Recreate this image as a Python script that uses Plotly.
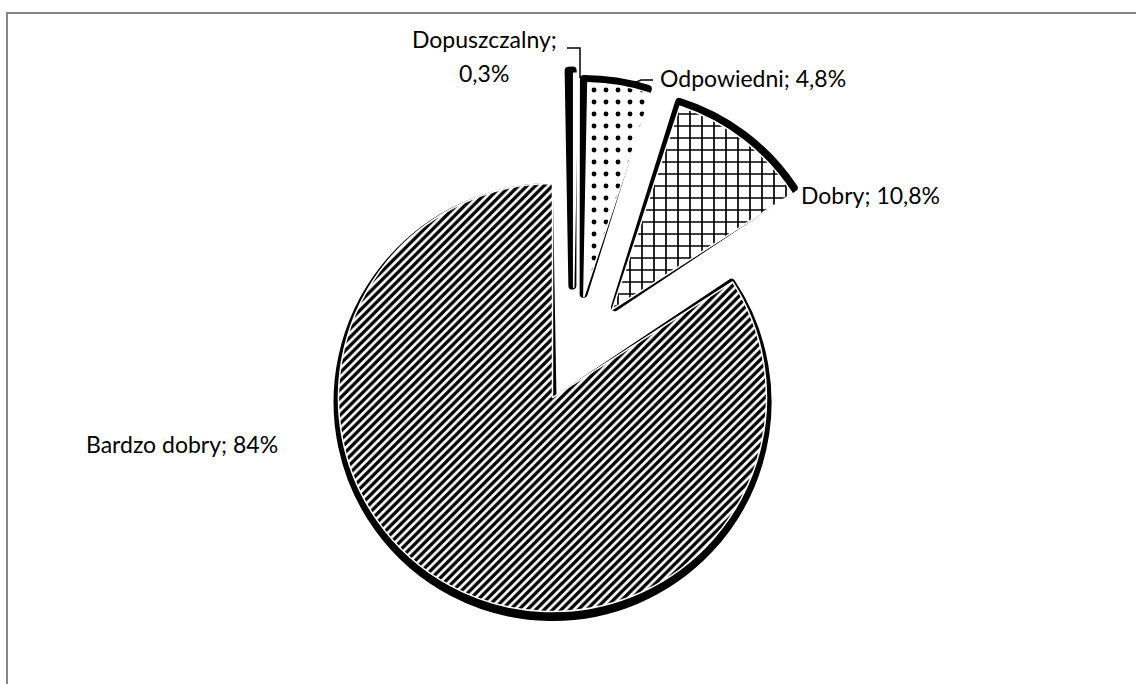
import plotly.graph_objects as go

W, H = 1136, 684

# ---- data ----
categories = ["Dopuszczalny", "Odpowiedni", "Dobry", "Bardzo dobry"]
values = [0.3, 4.8, 10.8, 84.0]
value_labels = ["0,3%", "4,8%", "10,8%", "84%"]
pulls = [0.34, 0.30, 0.30, 0.20]

# ---- styles ----
shadow_pulls = [0.36, 0.325, 0.325, 0.205]
pattern_shapes = ["", ".", "+", "/"]
pattern_sizes = [8, 12, 12, 6]
pattern_solid = [0.3, 0.13, 0.26, 0.55]
FONT = "Lato, Open Sans, sans-serif"
FS = 23

def px(x):
    return x / W

def py(y):
    return 1 - y / H

# main pie geometry: centre (573, 360), radius ~214 px
cx, cy, r = 573, 360, 214
half = r * (1 + max(pulls))
dom_main = dict(x=[px(cx - 300), px(cx + 300)], y=[py(cy + half), py(cy - half)])
# shadow pie, a touch bigger and shifted a few pixels down
sx, sy, sr = 0, 3, 215
shalf = sr * (1 + max(shadow_pulls))
dom_shadow = dict(x=[px(cx + sx - 320), px(cx + sx + 320)],
                  y=[py(cy + sy + shalf), py(cy + sy - shalf)])

fig = go.Figure()

fig.add_trace(go.Pie(
    labels=categories, values=values, pull=shadow_pulls, sort=False,
    direction="clockwise", rotation=-1.0, domain=dom_shadow,
    textinfo="none", hoverinfo="skip",
    marker=dict(colors=["black"] * 4, line=dict(color="black", width=8)),
    showlegend=False,
))

fig.add_trace(go.Pie(
    labels=categories, values=values, pull=pulls, sort=False,
    direction="clockwise", rotation=0, domain=dom_main,
    textinfo="none", hoverinfo="label+percent",
    marker=dict(
        colors=["white"] * 4,
        line=dict(color="white", width=1.5),
        pattern=dict(shape=pattern_shapes, size=pattern_sizes,
                     solidity=pattern_solid, fgcolor="black", bgcolor="white",
                     fillmode="replace"),
    ),
    showlegend=False,
))

txt = [c + "; " + v for c, v in zip(categories, value_labels)]
font = dict(family=FONT, size=FS, color="black")
annotations = [
    dict(x=px(484), y=py(39), text=categories[0] + ";", xanchor="center", yanchor="middle"),
    dict(x=px(484), y=py(73), text=value_labels[0], xanchor="center", yanchor="middle"),
    dict(x=px(658), y=py(78), text=txt[1], xanchor="left", yanchor="middle"),
    dict(x=px(799), y=py(195), text=txt[2], xanchor="left", yanchor="middle"),
    dict(x=px(280), y=py(444), text=txt[3], xanchor="right", yanchor="middle"),
]
for a in annotations:
    a.update(xref="paper", yref="paper", showarrow=False, font=font)

shapes = [
    dict(type="rect", xref="paper", yref="paper", x0=px(7), y0=py(13), x1=px(1145), y1=py(700),
         line=dict(color="#878787", width=2), fillcolor="rgba(0,0,0,0)"),
    dict(type="path", xref="paper", yref="paper",
         path=f"M {px(567)} {py(48)} L {px(580)} {py(48)} L {px(580)} {py(78)}",
         line=dict(color="black", width=1.5)),
    dict(type="path", xref="paper", yref="paper",
         path=f"M {px(653)} {py(80)} L {px(641)} {py(80)} L {px(627)} {py(86)}",
         line=dict(color="black", width=1.5)),
]

fig.update_layout(
    width=W, height=H, margin=dict(l=0, r=0, t=0, b=0),
    paper_bgcolor="white", plot_bgcolor="white",
    annotations=annotations, shapes=shapes, showlegend=False,
)

fig.write_html("out.html", config={"displayModeBar": False},
               post_script="document.body.style.margin='0';")
